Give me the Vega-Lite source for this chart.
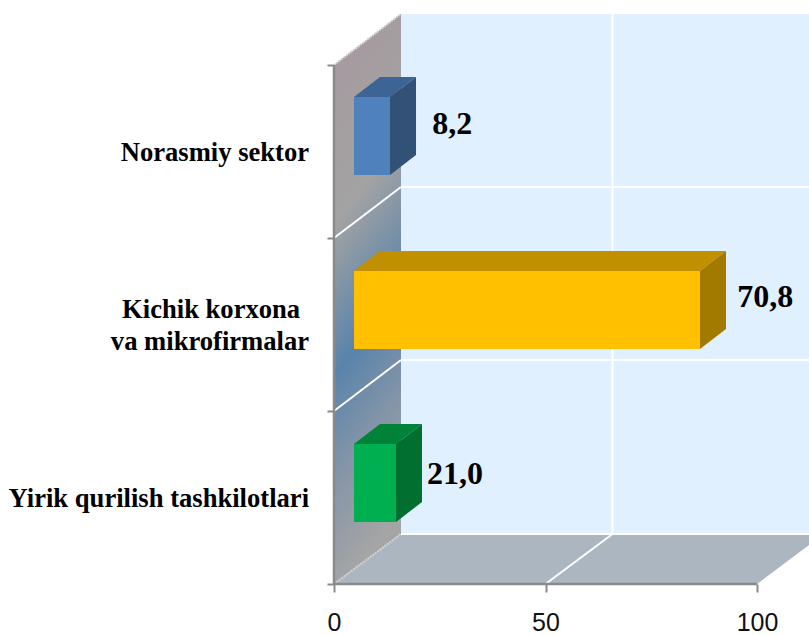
{
"$schema":"https://vega.github.io/schema/vega-lite/v6.json",
"width":475,"height":570,
"autosize":{"type":"none"},
"padding":{"left":334,"top":14,"right":0,"bottom":51},
"background":"white",
"config":{"view":{"stroke":null}},
"datasets":{
"wall":[{"x":0,"y":3.0,"y2":0},{"x":15.84,"y":3.295,"y2":0.289}],
"back":[{"x":15.84,"y":3.295,"y2":0.289},{"x":112.29,"y":3.295,"y2":0.289}],
"floor":[{"x":0,"y":0,"y2":0},{"x":15.84,"y":0.289,"y2":0},{"x":100,"y":0.289,"y2":0},{"x":112.29,"y":0.289,"y2":0.225}],
"lines":[
{"id":"v","x":65.84,"y":0.289},{"id":"v","x":65.84,"y":3.295},
{"id":"h1","x":15.84,"y":1.295},{"id":"h1","x":112.29,"y":1.295},
{"id":"h2","x":15.84,"y":2.295},{"id":"h2","x":112.29,"y":2.295},
{"id":"d1","x":0,"y":1},{"id":"d1","x":15.84,"y":1.295},
{"id":"d2","x":0,"y":2},{"id":"d2","x":15.84,"y":2.295},
{"id":"f","x":50,"y":0},{"id":"f","x":65.84,"y":0.289},
{"id":"b","x":15.84,"y":0.289},{"id":"b","x":112.29,"y":0.289}],
"edges":[
{"id":"t","x":0,"y":3.0},{"id":"t","x":15.84,"y":3.295},
{"id":"u","x":0,"y":0},{"id":"u","x":15.84,"y":0.289}],
"axisLines":[
{"id":"a","x":0,"y":0},{"id":"a","x":100,"y":0},
{"id":"c","x":0,"y":0},{"id":"c","x":0,"y":3}],
"faces":[
{"part":"blue front","x":4.73,"y":2.815,"y2":2.364},{"part":"blue front","x":13.24,"y":2.815,"y2":2.364},
{"part":"blue top","x":4.73,"y":2.815,"y2":2.815},{"part":"blue top","x":10.87,"y":2.931,"y2":2.815},{"part":"blue top","x":13.24,"y":2.931,"y2":2.815},{"part":"blue top","x":19.39,"y":2.931,"y2":2.931},
{"part":"blue side","x":13.24,"y":2.815,"y2":2.364},{"part":"blue side","x":19.39,"y":2.931,"y2":2.480},
{"part":"yellow front","x":4.73,"y":1.809,"y2":1.358},{"part":"yellow front","x":86.52,"y":1.809,"y2":1.358},
{"part":"yellow top","x":4.73,"y":1.809,"y2":1.809},{"part":"yellow top","x":10.87,"y":1.925,"y2":1.809},{"part":"yellow top","x":86.52,"y":1.925,"y2":1.809},{"part":"yellow top","x":92.67,"y":1.925,"y2":1.925},
{"part":"yellow side","x":86.52,"y":1.809,"y2":1.358},{"part":"yellow side","x":92.67,"y":1.925,"y2":1.474},
{"part":"green front","x":4.73,"y":0.809,"y2":0.358},{"part":"green front","x":14.66,"y":0.809,"y2":0.358},
{"part":"green top","x":4.73,"y":0.809,"y2":0.809},{"part":"green top","x":10.87,"y":0.925,"y2":0.809},{"part":"green top","x":14.66,"y":0.925,"y2":0.809},{"part":"green top","x":20.80,"y":0.925,"y2":0.925},
{"part":"green side","x":14.66,"y":0.809,"y2":0.358},{"part":"green side","x":20.80,"y":0.925,"y2":0.474}],
"values":[
{"label":"8,2","x":23.2,"y":2.6},
{"label":"70,8","x":95.3,"y":1.6},
{"label":"21,0","x":22,"y":0.578}],
"cats":[
{"label":"Norasmiy sektor","x":-5.9,"y":2.445},
{"label":"Kichik korxona","x":-8,"y":1.54},
{"label":"va mikrofirmalar","x":-5.9,"y":1.35},
{"label":"Yirik qurilish tashkilotlari","x":-5.9,"y":0.445}]
},
"encoding":{
"x":{"field":"x","type":"quantitative","scale":{"domain":[0,112.29],"nice":false,"zero":false},
"axis":{"values":[0,50,100],"title":null,"domain":false,"grid":false,"tickColor":"#8a8a8a","tickWidth":2,"tickSize":8,"labelFont":"Liberation Sans","labelFontSize":25,"labelColor":"#111111","labelPadding":18,"labelFlush":false,"labelOverlap":false}},
"y":{"field":"y","type":"quantitative","stack":null,"scale":{"domain":[0,3.295],"nice":false,"zero":false},
"axis":{"values":[0,1,2,3],"title":null,"domain":false,"grid":false,"labels":false,"tickColor":"#8a8a8a","tickWidth":2,"tickSize":7}}
},
"layer":[
{"data":{"name":"back"},"mark":{"type":"area","color":"#e0f0ff"},"encoding":{"y2":{"field":"y2"}}},
{"data":{"name":"floor"},"mark":{"type":"area","color":"#acb6c0"},"encoding":{"y2":{"field":"y2"}}},
{"data":{"name":"wall"},"mark":{"type":"area","color":{"gradient":"linear","x1":0,"y1":0,"x2":0.15,"y2":1,"stops":[{"offset":0,"color":"#a8979f"},{"offset":0.2,"color":"#a49ea1"},{"offset":0.36,"color":"#a3a3a3"},{"offset":0.62,"color":"#5a83ab"},{"offset":0.8,"color":"#8495a8"},{"offset":1,"color":"#a5a5a5"}]}},"encoding":{"y2":{"field":"y2"}}},
{"data":{"name":"lines"},"mark":{"type":"line","color":"#ffffff","strokeWidth":2},"encoding":{"detail":{"field":"id"}}},
{"data":{"name":"edges"},"mark":{"type":"line","color":"#d0d0d0","strokeWidth":2,"strokeDash":[2,1]},"encoding":{"detail":{"field":"id"}}},
{"data":{"name":"axisLines"},"mark":{"type":"line","color":"#8a8a8a","strokeWidth":2.5},"encoding":{"detail":{"field":"id"}}},
{"data":{"name":"faces"},"mark":{"type":"area"},"encoding":{"y2":{"field":"y2"},"color":{"field":"part","type":"nominal","legend":null,"scale":{"domain":["blue front","blue top","blue side","yellow front","yellow top","yellow side","green front","green top","green side"],"range":["#4f81bd","#3c6494","#315177","#ffc000","#c09000","#a37a00","#00b050","#008339","#006f30"]}}}},
{"data":{"name":"values"},"mark":{"type":"text","align":"left","baseline":"alphabetic","font":"Liberation Serif","fontWeight":"bold","fontSize":32,"color":"#000000"},"encoding":{"text":{"field":"label"}}},
{"data":{"name":"cats"},"mark":{"type":"text","align":"right","baseline":"alphabetic","font":"Liberation Serif","fontWeight":"bold","fontSize":26.6,"color":"#000000"},"encoding":{"text":{"field":"label"}}}
]
}
